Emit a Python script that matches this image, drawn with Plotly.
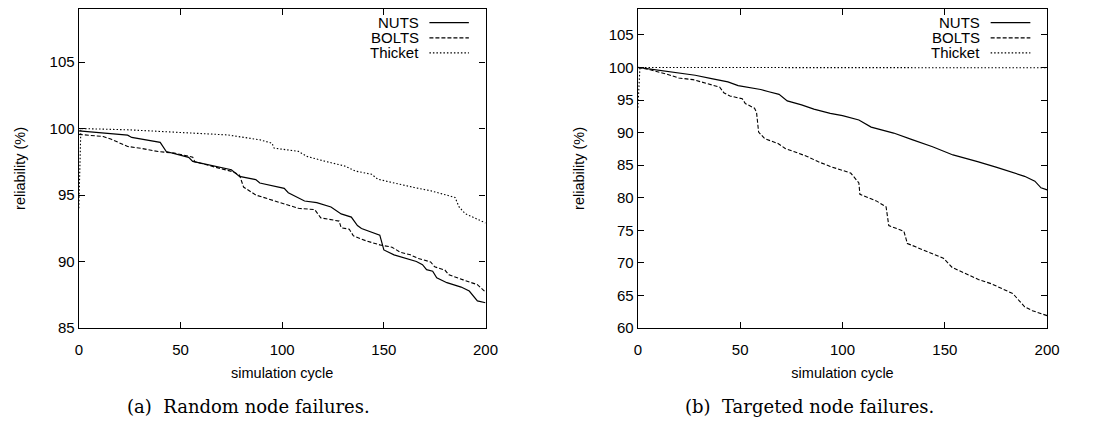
import plotly.graph_objects as go

# ---------------- data ----------------
series_names = ["NUTS", "BOLTS", "Thicket"]

# (a) Random node failures
cyc_nuts_a = [0, 24, 26, 40, 43, 54, 56, 63, 75, 79, 87, 89, 101, 103, 108, 111, 117, 124,
              129, 134, 137, 139, 148, 150, 155, 166, 169, 171, 174, 176, 181, 188, 192, 196, 200]
nuts_a = [99.83, 99.5, 99.33, 98.96, 98.27, 97.83, 97.53, 97.3, 96.9, 96.4, 96.16, 95.9, 95.5,
          95.17, 94.8, 94.55, 94.43, 94.1, 93.58, 93.34, 92.7, 92.48, 91.98, 90.87, 90.5, 90.0,
          89.76, 89.39, 89.27, 88.78, 88.41, 88.08, 87.78, 87.04, 86.9]

cyc_bolts_a = [0, 12, 16, 24, 31, 39, 47, 54, 56, 57, 66, 76, 79, 81, 87, 92, 100, 108, 116,
               119, 128, 129, 133, 135, 141, 148, 154, 158, 163, 167, 173, 175, 180, 182, 189,
               196, 200]
bolts_a = [99.56, 99.4, 99.19, 98.65, 98.5, 98.27, 98.15, 97.9, 97.85, 97.5, 97.16, 96.74,
           96.5, 95.6, 95.0, 94.76, 94.38, 94.0, 93.9, 93.28, 93.04, 92.54, 92.43, 91.93, 91.57,
           91.25, 91.08, 90.7, 90.51, 90.22, 89.97, 89.6, 89.36, 89.0, 88.62, 88.26, 87.7]

cyc_thicket_a = [0, 1, 25, 44, 60, 73, 84, 89, 95, 96, 108, 112, 121, 131, 136, 144, 147, 157,
                 165, 173, 185, 187, 190, 200]
thicket_a = [94.0, 100.0, 99.9, 99.76, 99.64, 99.52, 99.27, 99.15, 98.9, 98.53, 98.28, 97.91,
             97.54, 97.17, 96.8, 96.56, 96.19, 95.81, 95.56, 95.32, 94.82, 94.1, 93.6, 92.9]

# (b) Targeted node failures
cyc_nuts_b = [0, 14, 22, 28, 36, 44, 49, 60, 64, 69, 73, 80, 86, 94, 100, 108, 114, 125, 134,
              144, 154, 162, 166, 175, 179, 189, 194, 197, 200]
nuts_b = [100, 99.4, 98.99, 98.8, 98.28, 97.78, 97.22, 96.62, 96.27, 95.87, 94.87, 94.26,
          93.6, 92.95, 92.6, 91.94, 90.84, 89.93, 88.92, 87.82, 86.57, 85.81, 85.55, 84.7, 84.3,
          83.29, 82.54, 81.52, 81.2]

cyc_bolts_b = [0, 6, 14, 20, 27, 33, 40, 42, 45, 51, 52.5, 57, 58, 59, 62, 68.5, 72, 76.5, 83,
               88, 94, 104, 108, 108.5, 116.5, 121.3, 122.6, 130, 131.7, 135.7, 142, 149.3,
               153.6, 158.4, 162.4, 166.4, 172.8, 179.3, 183.3, 186.4, 189, 192.8, 198.4, 200]
bolts_b = [100, 99.64, 98.99, 98.38, 98.13, 97.63, 96.98, 96.12, 95.62, 95.2, 94.46, 93.75,
           93.1, 90.08, 89.07, 88.32, 87.56, 87.06, 86.31, 85.55, 84.8, 83.79, 82.28, 80.53,
           79.52, 78.6, 75.74, 74.84, 72.98, 72.47, 71.62, 70.72, 69.3, 68.6, 68.05, 67.45,
           66.79, 65.93, 65.28, 64.17, 63.26, 62.66, 62.05, 61.9]

cyc_thicket_b = [0, 1, 200]
thicket_b = [93.8, 100.0, 99.95]

x_ticks = [0, 50, 100, 150, 200]
y_ticks_a = [85, 90, 95, 100, 105]
y_ticks_b = [60, 65, 70, 75, 80, 85, 90, 95, 100, 105]
captions = ["(a)  Random node failures.", "(b)  Targeted node failures."]

# ---------------- styles ----------------
dashes = ["solid", "4px,2px", "1.5px,2px"]
widths = [1.2, 1.1, 1.1]
FONT = "Liberation Sans, Arial, Helvetica, sans-serif"

fig = go.Figure()

panels = [
    ([cyc_nuts_a, cyc_bolts_a, cyc_thicket_a], [nuts_a, bolts_a, thicket_a], "x", "y"),
    ([cyc_nuts_b, cyc_bolts_b, cyc_thicket_b], [nuts_b, bolts_b, thicket_b], "x2", "y2"),
]
for xs_list, ys_list, xa, ya in panels:
    for name, xs, ys, d, w in zip(series_names, xs_list, ys_list, dashes, widths):
        fig.add_trace(go.Scatter(x=xs, y=ys, mode="lines", name=name, xaxis=xa, yaxis=ya,
                                 line=dict(color="black", width=w, dash=d),
                                 showlegend=False, hoverinfo="skip"))

W, H = 1114, 426
top_px, bot_px = 9, 334.3
ydom = [(H - bot_px) / H, (H - top_px) / H]
xdom_a = [76 / W, 489 / W]
xdom_b = [643.7 / W, 1059.3 / W]

axis_common = dict(showline=True, linecolor="black", linewidth=1.4, mirror="ticks",
                   ticks="inside", ticklen=6, tickwidth=1, tickcolor="black",
                   showgrid=False, zeroline=False,
                   tickfont=dict(family=FONT, size=15, color="black"))

xtitle_font = dict(family=FONT, size=14.5, color="black")
fig.update_layout(
    width=W, height=H, margin=dict(l=0, r=0, t=0, b=0),
    paper_bgcolor="white", plot_bgcolor="white", showlegend=False,
    xaxis=dict(domain=xdom_a, range=[0, 200], tickvals=x_ticks, anchor="y",
               ticklabelstandoff=8,
               title=dict(text="simulation cycle", font=xtitle_font, standoff=10),
               **axis_common),
    yaxis=dict(domain=ydom, range=[85, 109], tickvals=y_ticks_a, anchor="x",
               title=dict(text="reliability (%)", font=xtitle_font, standoff=20),
               **axis_common),
    xaxis2=dict(domain=xdom_b, range=[0, 200], tickvals=x_ticks, anchor="y2",
                ticklabelstandoff=8,
                title=dict(text="simulation cycle", font=xtitle_font, standoff=10),
                **axis_common),
    yaxis2=dict(domain=ydom, range=[60, 109], tickvals=y_ticks_b, anchor="x2",
                title=dict(text="reliability (%)", font=xtitle_font, standoff=20),
                **axis_common),
)

# in-plot key (gnuplot style: label on the left, sample on the right)
row_y = [0.957, 0.909, 0.862]
for xr, yr in [("x domain", "y domain"), ("x2 domain", "y2 domain")]:
    for name, d, w, ry in zip(series_names, dashes, widths, row_y):
        fig.add_annotation(xref=xr, yref=yr, x=0.842, y=ry, text=name, showarrow=False,
                           xanchor="right", yanchor="middle",
                           font=dict(family=FONT, size=15, color="black"))
        fig.add_shape(type="line", xref=xr, yref=yr, x0=0.862, x1=0.959, y0=ry, y1=ry,
                      line=dict(color="black", width=w, dash=d))

# sub-figure captions
for cap, cx in zip(captions, [248, 818]):
    fig.add_annotation(xref="paper", yref="paper", x=cx / W, y=(H - 414) / H, text=cap,
                       showarrow=False, xanchor="center", yanchor="middle",
                       font=dict(family="DejaVu Serif, serif", size=18, color="black"))

fig.write_html("out.html")
